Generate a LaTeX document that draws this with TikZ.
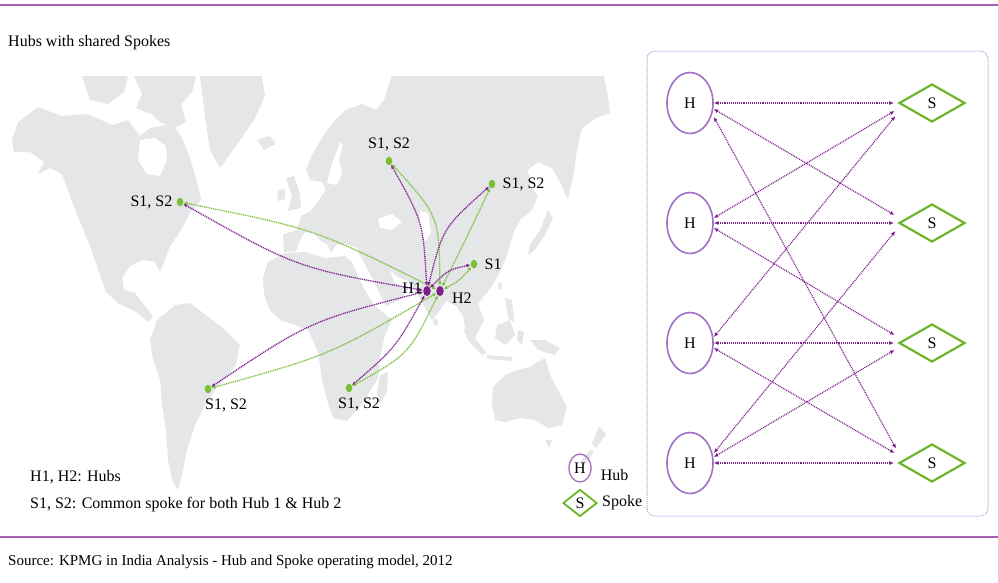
\documentclass[tikz,border=0pt]{standalone}
\usepackage{fontspec}
\setmainfont{Liberation Serif}
\usetikzlibrary{positioning,shapes.geometric,arrows.meta}

\definecolor{landgrey}{RGB}{229,230,232}
\definecolor{rulepurple}{RGB}{165,95,180}
\definecolor{linkpurple}{RGB}{125,30,140}
\definecolor{dotgreen}{RGB}{122,192,52}
\definecolor{hubpurple}{RGB}{160,112,195}
\definecolor{spokegreen}{RGB}{110,180,40}
\definecolor{framebl}{RGB}{150,170,220}

\begin{document}
\begin{tikzpicture}[x=1pt, y=-1pt,
  font=\fontsize{16}{19}\selectfont,
  hub/.style={ellipse, draw=hubpurple, line width=1.6pt, minimum width=46pt, minimum height=61pt, inner sep=0pt},
  spoke/.style={diamond, draw=spokegreen, line width=2.2pt, minimum width=66pt, minimum height=38pt, inner sep=0pt},
  hslink/.style={draw=linkpurple, line width=1.2pt, dash pattern=on 1pt off 0.9pt, shorten >=4pt, {Latex[length=4.5pt,width=4pt]}-{Latex[length=4.5pt,width=4pt]}},
  spot/.style={ellipse, fill=dotgreen, minimum width=6.5pt, minimum height=8.5pt, inner sep=0pt},
  hubspot/.style={ellipse, fill=linkpurple, minimum width=7.5pt, minimum height=10pt, inner sep=0pt},
  arcp/.style={draw=linkpurple, line width=1.3pt, dash pattern=on 1.1pt off 0.8pt, {Latex[length=4pt,width=3.5pt]}-{Latex[length=4pt,width=3.5pt]}},
  arcg/.style={arcp, draw=dotgreen},
  tag/.style={inner sep=0pt}]

\useasboundingbox (0,0) rectangle (998,582);

%rules
\draw[rulepurple, line width=2.2pt] (0,5) -- (998,5);
\draw[rulepurple, line width=2.2pt] (0,537) -- (998,537);

%map
\fill[landgrey] (12,140) -- (18,122) -- (38,107) -- (62,116) -- (88,114) -- (112,125) -- (128,120) -- (140,136) -- (150,128) -- (172,124) -- (182,138) -- (190,158) -- (198,185) -- (201,200) -- (190,213) -- (180,232) -- (170,246) -- (164,262) -- (160,272) -- (155,262) -- (143,260) -- (130,266) -- (122,278) -- (124,290) -- (134,292) -- (142,302) -- (153,316) -- (149,322) -- (136,312) -- (118,303) -- (106,292) -- (99,272) -- (90,246) -- (80,222) -- (70,196) -- (62,174) -- (50,168) -- (38,174) -- (44,162) -- (30,152) -- (14,152) -- cycle;
\fill[landgrey] (82,76) -- (128,76) -- (124,92) -- (108,104) -- (90,100) -- cycle;
\fill[landgrey] (134,76) -- (196,76) -- (192,92) -- (178,108) -- (162,104) -- (150,114) -- (136,108) -- (142,94) -- cycle;
\fill[landgrey] (150,112) -- (168,100) -- (182,106) -- (186,122) -- (174,128) -- (160,122) -- cycle;
\fill[landgrey] (200,76) -- (262,76) -- (265,96) -- (254,120) -- (236,146) -- (220,168) -- (210,150) -- (205,116) -- cycle;
\fill[landgrey] (257,140) -- (270,136) -- (276,144) -- (264,150) -- cycle;
\fill[landgrey] (286,178) -- (294,176) -- (300,194) -- (301,208) -- (288,211) -- (292,196) -- cycle;
\fill[landgrey] (278,190) -- (285,189) -- (285,199) -- (277,201) -- cycle;
\fill[landgrey] (284,252) -- (283,234) -- (297,230) -- (301,216) -- (311,211) -- (318,201) -- (326,190) -- (322,182) -- (310,180) -- (306,170) -- (312,155) -- (322,138) -- (334,121) -- (346,110) -- (362,104) -- (376,110) -- (384,100) -- (388,86) -- (392,76) -- (604,76) -- (608,96) -- (610,113) -- (596,118) -- (582,128) -- (577,150) -- (574,172) -- (568,200) -- (560,182) -- (552,168) -- (538,162) -- (528,170) -- (530,186) -- (538,196) -- (532,210) -- (520,220) -- (514,232) -- (510,245) -- (506,258) -- (500,272) -- (492,286) -- (484,296) -- (478,304) -- (484,320) -- (478,332) -- (472,345) -- (466,332) -- (463,316) -- (456,306) -- (446,301) -- (440,310) -- (432,321) -- (424,306) -- (416,291) -- (408,281) -- (398,277) -- (390,270) -- (394,282) -- (408,289) -- (400,300) -- (386,306) -- (376,286) -- (366,266) -- (358,252) -- (358,248) -- (346,244) -- (336,245) -- (331,253) -- (327,244) -- (321,241) -- (314,233) -- (305,232) -- (300,240) -- (296,251) -- cycle;
\fill[landgrey] (268,262) -- (285,253) -- (305,252) -- (325,258) -- (345,256) -- (352,262) -- (362,285) -- (374,305) -- (392,320) -- (385,335) -- (380,357) -- (378,378) -- (363,403) -- (347,421) -- (333,418) -- (327,400) -- (322,380) -- (318,352) -- (308,330) -- (295,325) -- (280,320) -- (270,310) -- (264,295) -- (263,278) -- cycle;
\fill[landgrey] (380,375) -- (388,372) -- (387,392) -- (380,404) -- (377,392) -- cycle;
\fill[landgrey] (157,320) -- (175,305) -- (190,303) -- (210,318) -- (225,330) -- (240,345) -- (236,365) -- (225,378) -- (215,390) -- (205,405) -- (195,425) -- (187,450) -- (182,475) -- (178,490) -- (172,480) -- (168,460) -- (166,430) -- (162,405) -- (160,380) -- (152,355) -- (150,340) -- cycle;
\fill[landgrey] (493,387) -- (505,375) -- (517,370) -- (530,367) -- (537,362) -- (545,358) -- (550,375) -- (558,390) -- (567,407) -- (562,425) -- (548,428) -- (535,420) -- (520,418) -- (505,422) -- (495,420) -- (492,405) -- cycle;
\fill[landgrey] (545,440) -- (552,440) -- (549,448) -- cycle;
\fill[landgrey] (599,426) -- (606,434) -- (596,448) -- (592,444) -- cycle;
\fill[landgrey] (590,450) -- (594,452) -- (584,466) -- (580,462) -- cycle;
\fill[landgrey] (548,210) -- (553,218) -- (545,235) -- (535,250) -- (528,255) -- (530,245) -- (540,230) -- cycle;
\fill[landgrey] (505,298) -- (512,300) -- (514,322) -- (508,318) -- cycle;
\fill[landgrey] (463,328) -- (472,335) -- (487,353) -- (482,355) -- (468,340) -- cycle;
\fill[landgrey] (497,325) -- (510,320) -- (515,335) -- (505,345) -- (495,338) -- cycle;
\fill[landgrey] (487,355) -- (512,357) -- (512,361) -- (487,359) -- cycle;
\fill[landgrey] (518,330) -- (524,332) -- (522,345) -- (517,340) -- cycle;
\fill[landgrey] (530,340) -- (545,340) -- (560,348) -- (555,355) -- (538,350) -- cycle;
\fill[landgrey] (434,318) -- (438,320) -- (437,326) -- (433,324) -- cycle;
\fill[landgrey] (499,282) -- (502,283) -- (501,290) -- (498,288) -- cycle;
\fill[white] (140,140) -- (155,138) -- (166,146) -- (167,160) -- (160,176) -- (147,174) -- (138,160) -- cycle;
\fill[white] (327,183) -- (330,170) -- (335,155) -- (340,142) -- (343,145) -- (339,160) -- (342,174) -- (337,185) -- cycle;
\fill[white] (378,219) -- (392,214) -- (402,222) -- (392,230) -- (380,228) -- cycle;
\fill[white] (420,211) -- (428,213) -- (431,232) -- (425,242) -- (419,228) -- cycle;

%places
\node[spot] (na) at (180,202) {};
\node[spot] (ru) at (389,161) {};
\node[spot] (er) at (492,184) {};
\node[spot] (cn) at (474,264) {};
\node[spot] (sa) at (208,389) {};
\node[spot] (af) at (349,388) {};
\node[hubspot] (hone) at (427,291) {};
\node[hubspot] (htwo) at (440,291) {};

%routes
\foreach \s/\a/\b/\c/\d in {na/297/268/315/229, ru/423/222/439/216, er/443/228/466/239, cn/448/270/459/281, sa/310/321/330/355, af/396/347/409/354}
{
\draw[arcp] (\s) .. controls (\a,\b) .. (hone);
\draw[arcg] (\s) .. controls (\c,\d) .. (htwo);
}

%place labels
\node[tag, left=4pt of na] {S1, S2};
\node[tag, above=5pt of ru] {S1, S2};
\node[tag, right=7pt of er] {S1, S2};
\node[tag, right=7pt of cn] {S1};
\node[tag, left=1pt of hone, yshift=3pt] {H1};
\node[tag, right=8pt of htwo, yshift=-7pt] {H2};
\node[tag, below=5pt of sa, xshift=18pt] {S1, S2};
\node[tag, below=5pt of af, xshift=10pt] {S1, S2};

%panel
\draw[framebl, line width=1pt, dash pattern=on 1pt off 1pt, rounded corners=8pt] (647,51) rectangle (988,516);

\foreach \i/\y in {1/103, 2/223, 3/343, 4/463}
{
\node[hub] (h\i) at (690,\y) {H};
\node[spoke] (s\i) at (932,\y) {S};
}

\foreach \i/\j/\a/\b in {1/1/0/0, 1/2/-6/6, 1/4/-14/11, 2/1/5/-6, 2/2/0/0, 2/3/-5/6, 3/1/6/-10, 3/3/0/0, 3/4/-5/8, 4/2/10/-5, 4/3/6/-5, 4/4/0/0}
\draw[hslink] ([yshift=\a pt]h\i.east) -- ([yshift=\b pt]s\j.west);

%legend
\node[hub, minimum width=22pt, minimum height=28pt, line width=1.3pt] (lhub) at (580,468) {H};
\node[spoke, minimum width=34pt, minimum height=27pt, line width=1.8pt] (lspoke) at (580,503) {S};
\node[tag, right=9pt of lhub, yshift=-7pt] {Hub};
\node[tag, right=4pt of lspoke] {Spoke};

%label
\node[tag, anchor=west] (title) at (8,43) {Hubs with shared Spokes};
\node[tag, anchor=west] (keyh) at (30,477) {H1, H2: Hubs};
\node[tag, anchor=west] (keys) at (30,505) {S1, S2: Common spoke for both Hub 1 \& Hub 2};
\node[tag, anchor=west, font=\fontsize{15}{18}\selectfont] (source) at (8,562) {Source: KPMG in India Analysis - Hub and Spoke operating model, 2012};

\end{tikzpicture}
\end{document}
